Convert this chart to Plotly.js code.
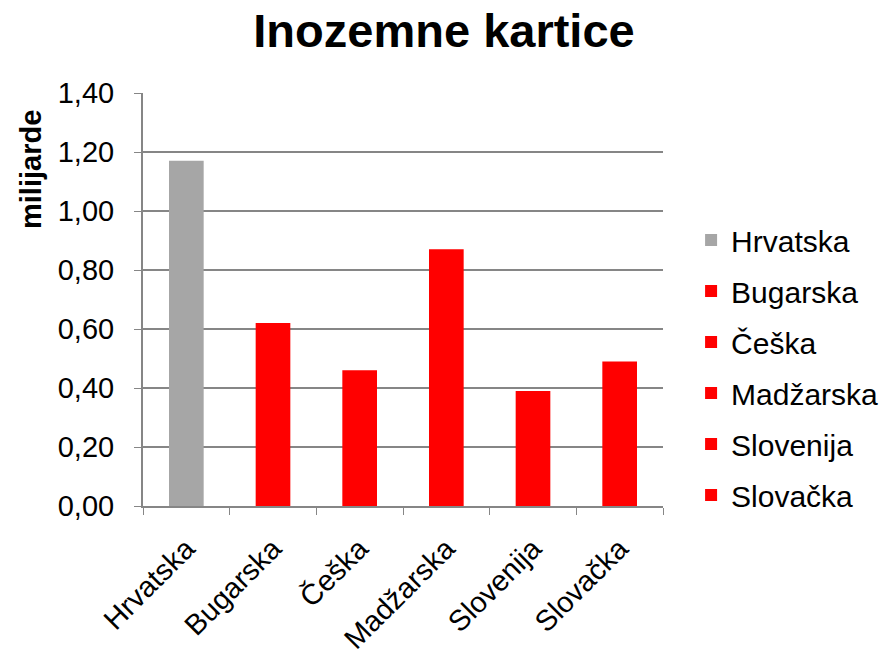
<!DOCTYPE html>
<html>
<head>
<meta charset="utf-8">
<script src="https://cdn.plot.ly/plotly-3.0.1.min.js"></script>
<style>
  html, body { margin: 0; padding: 0; background: #fff; }
  #chart { width: 888px; height: 656px; }
</style>
</head>
<body>
<div id="chart"></div>
<script>
var countries = ["Hrvatska", "Bugarska", "Češka", "Madžarska", "Slovenija", "Slovačka"];
var values = [1.17, 0.62, 0.46, 0.87, 0.39, 0.49];
var barColors = ["#a6a6a6", "#ff0000", "#ff0000", "#ff0000", "#ff0000", "#ff0000"];
var yTicks = [0, 0.2, 0.4, 0.6, 0.8, 1.0, 1.2, 1.4];

var fontName = "Liberation Sans, Arial, sans-serif";
var axisGray = "#868686";

var data = [];
for (var i = 0; i < countries.length; i++) {
  data.push({
    type: "bar",
    name: countries[i],
    x: [countries[i]],
    y: [values[i]],
    width: 0.4,
    marker: {color: barColors[i]},
    legendgroup: "g" + i,
    hoverinfo: "x+y"
  });
}

var layout = {
  width: 888,
  height: 656,
  margin: {l: 143, r: 225, t: 93, b: 150, autoexpand: false},
  paper_bgcolor: "#fff",
  plot_bgcolor: "#fff",
  separators: ",.",
  barmode: "overlay",
  font: {family: fontName, color: "#000", size: 29},
  title: {
    text: "<b>Inozemne kartice</b>",
    font: {family: fontName, size: 47, color: "#000"},
    x: 0.5, xanchor: "center",
    y: 1 - 31 / 656, yanchor: "middle", yref: "container"
  },
  xaxis: {
    categoryorder: "array",
    categoryarray: countries,
    tickangle: -45,
    ticks: "outside",
    tickson: "boundaries",
    ticklen: 7,
    tickcolor: axisGray,
    ticklabelstandoff: 12,
    showline: true,
    linecolor: axisGray,
    linewidth: 2,
    showgrid: false,
    tickfont: {size: 29}
  },
  yaxis: {
    range: [0, 1.4],
    tickvals: yTicks,
    tickformat: ".2f",
    ticks: "outside",
    ticklen: 7,
    tickcolor: axisGray,
    ticklabelstandoff: 14,
    showline: true,
    linecolor: axisGray,
    linewidth: 2,
    showgrid: true,
    gridcolor: axisGray,
    gridwidth: 1.5,
    zeroline: false,
    tickfont: {size: 29}
  },
  legend: {
    x: 1.054, xanchor: "left",
    y: 0.707, yanchor: "top",
    traceorder: "grouped",
    tracegroupgap: 9,
    font: {size: 30},
    bgcolor: "rgba(0,0,0,0)"
  },
  annotations: [{
    text: "<b>milijarde</b>",
    textangle: -90,
    xref: "paper", yref: "paper",
    x: (31 - 143) / 520, y: (506 - 170) / 413,
    xanchor: "center", yanchor: "middle",
    showarrow: false,
    font: {size: 29, family: fontName, color: "#000"}
  }]
};

Plotly.newPlot("chart", data, layout, {displayModeBar: false});
</script>
</body>
</html>
